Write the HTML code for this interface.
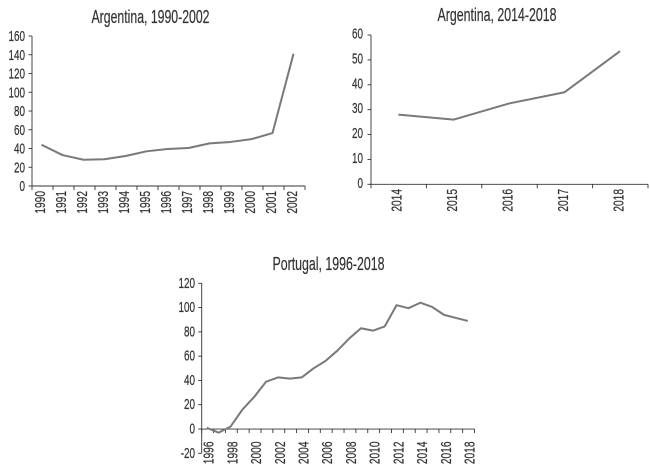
<!DOCTYPE html>
<html lang="en">
<head>
<meta charset="utf-8">
<title>Argentina and Portugal charts</title>
<style>
html,body{margin:0;padding:0;background:#fff;width:650px;height:470px;overflow:hidden}
svg{display:block}
text{font-family:"Liberation Sans",sans-serif;fill:#333;stroke:#333;stroke-width:0.2}
</style>
</head>
<body>
<svg id="figure" width="650" height="470" viewBox="0 0 650 470" xmlns="http://www.w3.org/2000/svg"></svg>
<script>
const arg1Categories = ["1990","1991","1992","1993","1994","1995","1996","1997","1998","1999","2000","2001","2002"];
const arg1Values = [44,33,28,28.5,32,37,39.5,40.5,45.5,47,50,56.5,141];
const arg1YTicks = [0,20,40,60,80,100,120,140,160];
const arg2Categories = ["2014","2015","2016","2017","2018"];
const arg2Values = [28,26,32.5,37,53.5];
const arg2YTicks = [0,10,20,30,40,50,60];
const porCategories = ["1996","1997","1998","1999","2000","2001","2002","2003","2004","2005","2006","2007","2008","2009","2010","2011","2012","2013","2014","2015","2016","2017","2018"];
const porValues = [1,-3,2,16,26.5,39,42.5,41.5,42.5,50,56,64.5,74.5,83,81,84.5,102,99.5,104,100.5,94,91.5,89];
const porYTicks = [-20,0,20,40,60,80,100,120];

const NS = "http://www.w3.org/2000/svg";
const root = document.getElementById("figure");
const INK = "#333";
const LINE = "#7b7875";

function drawChart(prefix, cfg, categories, values, yTicks) {
  const g = document.createElementNS(NS, "g");
  
  
  root.appendChild(g);

  const yMin = yTicks[0], yMax = yTicks[yTicks.length - 1];
  const y = function (v) { return cfg.yBottom + (v - yMin) * (cfg.yTop - cfg.yBottom) / (yMax - yMin); };
  const band = (cfg.xRight - cfg.xLeft) / categories.length;
  const x = function (i) { return cfg.xLeft + band * (i + 0.5); };
  const zero = y(Math.max(0, yMin));

  const title = document.createElementNS(NS, "text");
  
  
  title.setAttribute("x", cfg.titleX);
  title.setAttribute("y", cfg.titleY);
  title.setAttribute("font-size", "18");
  title.setAttribute("textLength", cfg.titleW);
  title.setAttribute("lengthAdjust", "spacingAndGlyphs");
  title.textContent = cfg.title;
  g.appendChild(title);

  const yAxis = document.createElementNS(NS, "line");
  
  
  yAxis.setAttribute("x1", cfg.xLeft);
  yAxis.setAttribute("x2", cfg.xLeft);
  yAxis.setAttribute("y1", y(yMax));
  yAxis.setAttribute("y2", y(yMin));
  yAxis.setAttribute("stroke", INK);
  yAxis.setAttribute("stroke-width", "0.9");
  g.appendChild(yAxis);

  const xAxis = document.createElementNS(NS, "line");
  
  
  xAxis.setAttribute("x1", cfg.xLeft);
  xAxis.setAttribute("x2", cfg.xRight);
  xAxis.setAttribute("y1", zero);
  xAxis.setAttribute("y2", zero);
  xAxis.setAttribute("stroke", INK);
  xAxis.setAttribute("stroke-width", "0.9");
  g.appendChild(xAxis);

  yTicks.forEach(function (t) {
    const tick = document.createElementNS(NS, "line");
    
    
    tick.setAttribute("x1", cfg.xLeft - 3.5);
    tick.setAttribute("x2", cfg.xLeft);
    tick.setAttribute("y1", y(t));
    tick.setAttribute("y2", y(t));
    tick.setAttribute("stroke", INK);
    tick.setAttribute("stroke-width", "0.9");
    g.appendChild(tick);

    const label = document.createElementNS(NS, "text");
    
    
    label.setAttribute("text-anchor", "end");
    label.setAttribute("font-size", "15");
    label.setAttribute("transform", "translate(" + (cfg.xLeft - cfg.yLabelGap) + "," + (y(t) + cfg.yLabelDy) + ") scale(0.66,1)");
    label.textContent = t;
    g.appendChild(label);
  });

  for (let i = 0; i <= categories.length; i++) {
    const tick = document.createElementNS(NS, "line");
    
    
    tick.setAttribute("x1", cfg.xLeft + band * i);
    tick.setAttribute("x2", cfg.xLeft + band * i);
    tick.setAttribute("y1", zero);
    tick.setAttribute("y2", zero + 4);
    tick.setAttribute("stroke", INK);
    tick.setAttribute("stroke-width", "0.9");
    g.appendChild(tick);
  }

  categories.forEach(function (c, i) {
    if (i % cfg.labelStep !== 0) return;
    const label = document.createElementNS(NS, "text");
    
    
    label.setAttribute("text-anchor", "end");
    label.setAttribute("font-size", "15");
    label.setAttribute("transform", "translate(" + (x(i) + cfg.xLabelDx) + "," + cfg.xLabelTop + ") rotate(-90) scale(0.68,1)");
    label.textContent = c;
    g.appendChild(label);
  });

  const pts = values.map(function (v, i) { return (x(i) + cfg.seriesDx).toFixed(2) + "," + y(v).toFixed(2); }).join(" ");
  const series = document.createElementNS(NS, "polyline");
  
  
  series.setAttribute("points", pts);
  series.setAttribute("fill", "none");
  series.setAttribute("stroke", LINE);
  series.setAttribute("stroke-width", "2");
  series.setAttribute("stroke-linejoin", "round");
  g.appendChild(series);
}

drawChart("argentina-1990-2002", {
  title: "Argentina, 1990-2002", titleX: 91.5, titleY: 23, titleW: 118,
  xLeft: 32, xRight: 305, yTop: 36, yBottom: 186,
  yLabelGap: 7, yLabelDy: 5, xLabelDx: 2.5, xLabelTop: 191, labelStep: 1, seriesDx: -1
}, arg1Categories, arg1Values, arg1YTicks);

drawChart("argentina-2014-2018", {
  title: "Argentina, 2014-2018", titleX: 437.5, titleY: 21, titleW: 119,
  xLeft: 371, xRight: 648, yTop: 35, yBottom: 184.3,
  yLabelGap: 8, yLabelDy: 3.5, xLabelDx: 3, xLabelTop: 189, labelStep: 1, seriesDx: -0.3
}, arg2Categories, arg2Values, arg2YTicks);

drawChart("portugal-1996-2018", {
  title: "Portugal, 1996-2018", titleX: 272.5, titleY: 270, titleW: 112,
  xLeft: 201.7, xRight: 474.5, yTop: 283.3, yBottom: 453.3,
  yLabelGap: 6.7, yLabelDy: 4.5, xLabelDx: 6, xLabelTop: 441.5, labelStep: 2, seriesDx: -0.8
}, porCategories, porValues, porYTicks);
</script>
</body>
</html>
